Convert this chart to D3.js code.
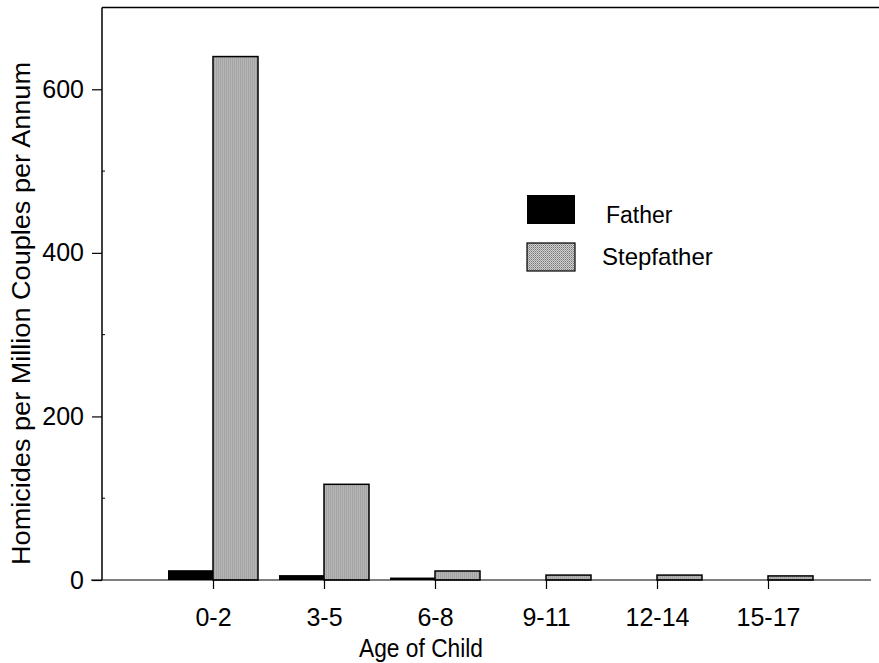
<!DOCTYPE html>
<html lang="en">
<head>
<meta charset="UTF-8">
<title>Homicides by age of child</title>
<script src="https://cdn.jsdelivr.net/npm/d3@7"></script>
<style>
  body { margin: 0; background: #fff; }
  text { font-family: "Liberation Sans", Arial, sans-serif; fill: #000; }
</style>
</head>
<body>
<div id="chart"></div>
<script>
    // data
    var ages = ["0-2", "3-5", "6-8", "9-11", "12-14", "15-17"];
    var father = [12, 6, 3, 0, 0, 0];
    var stepfather = [640, 117, 11, 6, 6, 5];
    var yTicks = [0, 200, 400, 600];
    var seriesNames = ["Father", "Stepfather"];

    var W = 879, H = 663;
    var margin = {top: 7.5, right: 0, bottom: 83, left: 102};
    var width = W - margin.left - margin.right,
        height = H - margin.top - margin.bottom;

    var svg = d3.select("#chart").append("svg")
        .attr("width", W)
        .attr("height", H);

    // stipple pattern for stepfather bars
    var defs = svg.append("defs");
    var pat = defs.append("pattern")
        .attr("id", "stipple")
        .attr("patternUnits", "userSpaceOnUse")
        .attr("width", 2).attr("height", 2);
    pat.append("rect").attr("width", 2).attr("height", 2).attr("fill", "#d0d0d0");
    pat.append("rect").attr("x", 0).attr("y", 0).attr("width", 1).attr("height", 1).attr("fill", "#767676");
    pat.append("rect").attr("x", 1).attr("y", 1).attr("width", 1).attr("height", 1).attr("fill", "#9c9c9c");

    var g = svg.append("g")
        .attr("transform", "translate(" + margin.left + "," + margin.top + ")");

    // category positions: 1..6 on a 0..7 linear range
    var x = d3.scaleLinear().domain([0, 7]).range([0, width]);
    var y = d3.scaleLinear().domain([0, 700]).range([height, 0]);
    var barW = 45;

    // top frame line
    g.append("line")
        .attr("x1", 0).attr("x2", width)
        .attr("y1", 0).attr("y2", 0)
        .attr("stroke", "#000").attr("stroke-width", 1.5);

    // father bars
    g.selectAll(".bar-f").data(father).enter()
        .append("rect")
        .attr("class", "bar-f")
        .attr("x", (d, i) => x(i + 1) - barW)
        .attr("y", d => y(d))
        .attr("width", barW)
        .attr("height", d => y(0) - y(d))
        .attr("fill", "#000");

    // stepfather bars
    g.selectAll(".bar-s").data(stepfather).enter()
        .append("rect")
        .attr("class", "bar-s")
        .attr("x", (d, i) => x(i + 1))
        .attr("y", d => y(d))
        .attr("width", barW)
        .attr("height", d => y(0) - y(d))
        .attr("fill", "url(#stipple)")
        .attr("stroke", "#000")
        .attr("stroke-width", 1.5);

    // y axis
    var yAxis = d3.axisLeft(y)
        .tickValues(yTicks)
        .tickSize(10)
        .tickPadding(8);
    var ya = g.append("g").attr("class", "y-axis").call(yAxis);
    ya.attr("font-family", null).attr("font-size", null);
    ya.select(".domain").attr("stroke-width", 1.5).attr("d", "M0," + height + "V0");
    ya.selectAll(".tick line").attr("stroke-width", 1.2);
    ya.selectAll("text").style("font-size", "25px");

    // minor y ticks
    g.selectAll(".minor").data([100, 300, 500]).enter()
        .append("line")
        .attr("x1", 0).attr("x2", 3)
        .attr("y1", d => y(d)).attr("y2", d => y(d))
        .attr("stroke", "#000");

    // x axis
    var xAxis = d3.axisBottom(x)
        .tickValues(d3.range(1, ages.length + 1))
        .tickFormat(d => ages[d - 1])
        .tickSize(9)
        .tickPadding(19);
    var xa = g.append("g")
        .attr("class", "x-axis")
        .attr("transform", "translate(0," + height + ")")
        .call(xAxis);
    xa.attr("font-family", null).attr("font-size", null);
    xa.select(".domain").attr("stroke-width", 1.2).attr("d", "M-11,0H" + (width - 8));
    xa.selectAll(".tick line").attr("stroke-width", 1.2);
    xa.selectAll("text").style("font-size", "25px");

    // axis titles
    svg.append("text")
        .attr("x", 421).attr("y", 657)
        .attr("text-anchor", "middle")
        .attr("textLength", 124)
        .attr("lengthAdjust", "spacingAndGlyphs")
        .style("font-size", "25px")
        .text("Age of Child");

    svg.append("text")
        .attr("transform", "translate(30,313.5) rotate(-90)")
        .attr("text-anchor", "middle")
        .attr("textLength", 503)
        .attr("lengthAdjust", "spacingAndGlyphs")
        .style("font-size", "25px")
        .text("Homicides per Million Couples per Annum");

    // legend
    var legend = svg.append("g").attr("transform", "translate(527,195)");
    legend.append("rect")
        .attr("width", 48).attr("height", 29)
        .attr("fill", "#000");
    legend.append("rect")
        .attr("y", 48)
        .attr("width", 48).attr("height", 28)
        .attr("fill", "url(#stipple)")
        .attr("stroke", "#000").attr("stroke-width", 1.2);
    legend.append("text")
        .attr("x", 79).attr("y", 28)
        .style("font-size", "23px")
        .text(seriesNames[0]);
    legend.append("text")
        .attr("x", 75).attr("y", 70)
        .style("font-size", "24px")
        .text(seriesNames[1]);
</script>
</body>
</html>
